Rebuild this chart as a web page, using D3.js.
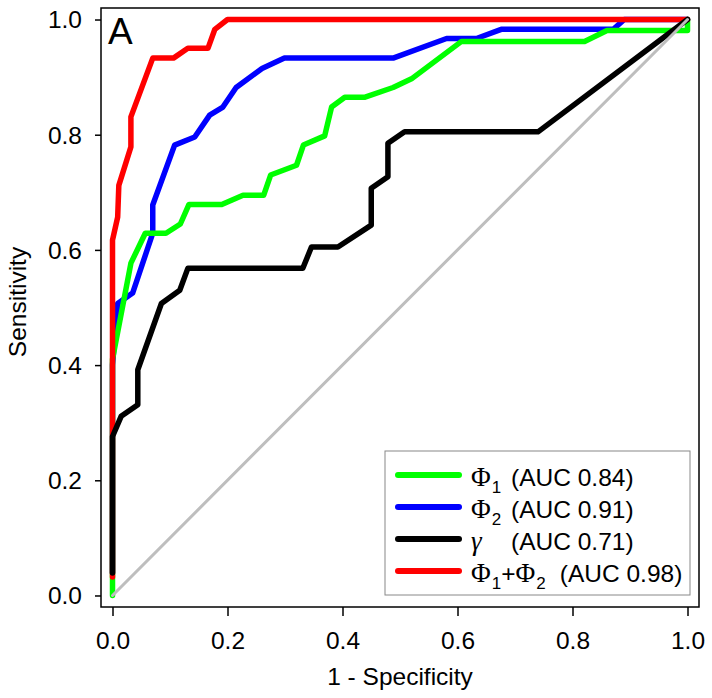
<!DOCTYPE html>
<html>
<head>
<meta charset="utf-8">
<script src="https://cdn.jsdelivr.net/npm/d3@7"></script>
<style>
  html, body { margin: 0; padding: 0; background: #fff; }
  svg { display: block; font-family: "Liberation Sans", Arial, sans-serif; }
</style>
</head>
<body>
<svg id="chart" width="712" height="698"></svg>
<script>
// ---------- data ----------
const phi1FPR = [0, 0, 0.032, 0.057, 0.093, 0.118, 0.133, 0.19, 0.227, 0.263, 0.275, 0.32, 0.332, 0.369, 0.381, 0.404, 0.438, 0.488, 0.52, 0.607, 0.821, 0.86, 1, 1];
const phi1TPR = [0, 0.41, 0.577, 0.629, 0.629, 0.645, 0.679, 0.679, 0.695, 0.695, 0.73, 0.747, 0.782, 0.798, 0.848, 0.865, 0.865, 0.882, 0.897, 0.962, 0.962, 0.981, 0.981, 1];

const phi2FPR = [0, 0, 0.009, 0.035, 0.070, 0.070, 0.108, 0.143, 0.169, 0.192, 0.215, 0.26, 0.299, 0.488, 0.581, 0.633, 0.676, 0.871, 0.89, 1];
const phi2TPR = [0.04, 0.40, 0.507, 0.525, 0.629, 0.678, 0.782, 0.796, 0.834, 0.848, 0.882, 0.915, 0.933, 0.933, 0.967, 0.967, 0.983, 0.983, 1, 1];

const gammaFPR = [0, 0, 0.015, 0.044, 0.044, 0.085, 0.117, 0.131, 0.331, 0.346, 0.392, 0.45, 0.45, 0.479, 0.479, 0.508, 0.740, 1];
const gammaTPR = [0.039, 0.276, 0.311, 0.331, 0.392, 0.507, 0.530, 0.568, 0.568, 0.605, 0.605, 0.643, 0.707, 0.727, 0.785, 0.805, 0.805, 1];

const sumFPR = [0, 0, 0.009, 0.011, 0.032, 0.032, 0.070, 0.106, 0.131, 0.166, 0.178, 0.20, 1];
const sumTPR = [0.032, 0.617, 0.657, 0.712, 0.779, 0.831, 0.933, 0.933, 0.950, 0.950, 0.983, 1, 1];

const diagFPR = [0, 1];
const diagTPR = [0, 1];

const legendSymbols = [[["Φ", "1"]], [["Φ", "2"]], [["γ", null]], [["Φ", "1"], ["Φ", "2"]]];
const legendAUC = ["0.84", "0.91", "0.71", "0.98"];
const legendColors = ["#00ff00", "#0000ff", "#000000", "#ff0000"];

const xTicks = [0, 0.2, 0.4, 0.6, 0.8, 1.0];
const yTicks = [0, 0.2, 0.4, 0.6, 0.8, 1.0];
const xTitle = "1 - Specificity";
const yTitle = "Sensitivity";
const panelLabel = "A";

// ---------- layout ----------
const box = { left: 101, right: 699, top: 8, bottom: 607 };
const svg = d3.select("#chart");

const x = d3.scaleLinear().domain([-0.02, 1.02]).range([box.left, box.right]);
const y = d3.scaleLinear().domain([-0.02, 1.02]).range([box.bottom, box.top]);

const zip = (a, b) => a.map((v, i) => [v, b[i]]);
const line = d3.line().x(d => x(d[0])).y(d => y(d[1]));

// draw order: blue, green, red, black, then diagonal
const series = [
  { fpr: phi2FPR, tpr: phi2TPR, color: "#0000ff" },
  { fpr: phi1FPR, tpr: phi1TPR, color: "#00ff00" },
  { fpr: sumFPR, tpr: sumTPR, color: "#ff0000" },
  { fpr: gammaFPR, tpr: gammaTPR, color: "#000000" }
];

series.forEach(s => {
  svg.append("path")
    .datum(zip(s.fpr, s.tpr))
    .attr("d", line)
    .attr("fill", "none")
    .attr("stroke", s.color)
    .attr("stroke-width", 5.5)
    .attr("stroke-linejoin", "round")
    .attr("stroke-linecap", "round");
});

svg.append("path")
  .datum(zip(diagFPR, diagTPR))
  .attr("d", line)
  .attr("fill", "none")
  .attr("stroke", "#bebebe")
  .attr("stroke-width", 3)
  .attr("stroke-linecap", "round");

// box
svg.append("rect")
  .attr("x", box.left).attr("y", box.top)
  .attr("width", box.right - box.left).attr("height", box.bottom - box.top)
  .attr("fill", "none").attr("stroke", "#000").attr("stroke-width", 1.5);

// axes
const fmt = d3.format(".1f");
const gx = svg.append("g").attr("transform", `translate(0,${box.bottom})`)
  .call(d3.axisBottom(x).tickValues(xTicks).tickFormat(fmt).tickSize(9).tickSizeOuter(0));
gx.select(".domain").remove();
gx.selectAll(".tick line").attr("stroke", "#000").attr("stroke-width", 1.5);
gx.selectAll(".tick text").attr("y", 42).attr("dy", 0)
  .attr("font-size", 24.5).attr("fill", "#000")
  .attr("font-family", "'Liberation Sans', Arial, sans-serif");

const gy = svg.append("g").attr("transform", `translate(${box.left},0)`)
  .call(d3.axisLeft(y).tickValues(yTicks).tickFormat(fmt).tickSize(6).tickSizeOuter(0));
gy.select(".domain").remove();
gy.selectAll(".tick line").attr("stroke", "#000").attr("stroke-width", 1.5);
gy.selectAll(".tick text").attr("x", -19).attr("dy", "0.34em")
  .attr("font-size", 24.5).attr("fill", "#000")
  .attr("font-family", "'Liberation Sans', Arial, sans-serif");

// axis titles
svg.append("text")
  .attr("x", (box.left + box.right) / 2).attr("y", 685)
  .attr("text-anchor", "middle").attr("font-size", 24.5).attr("fill", "#000")
  .text(xTitle);

svg.append("text")
  .attr("transform", `translate(26,302) rotate(-90)`)
  .attr("text-anchor", "middle").attr("font-size", 24.5).attr("fill", "#000")
  .text(yTitle);

// panel label
svg.append("text")
  .attr("x", 108).attr("y", 44)
  .attr("font-size", 37).attr("fill", "#000")
  .text(panelLabel);

// legend
const leg = { x: 385, y: 451, w: 305, h: 144, first: 475, step: 32 };
svg.append("rect")
  .attr("x", leg.x).attr("y", leg.y).attr("width", leg.w).attr("height", leg.h)
  .attr("fill", "#fff").attr("stroke", "#888").attr("stroke-width", 1);

legendSymbols.forEach((parts, i) => {
  const ry = leg.first + i * leg.step;
  svg.append("line")
    .attr("x1", 398).attr("x2", 459).attr("y1", ry).attr("y2", ry)
    .attr("stroke", legendColors[i]).attr("stroke-width", 6)
    .attr("stroke-linecap", "round");

  const t = svg.append("text")
    .attr("x", 471).attr("y", ry + 11)
    .attr("font-size", 24.5).attr("fill", "#000");

  let lowered = false;
  parts.forEach((p, j) => {
    if (j > 0) {
      t.append("tspan").attr("dy", lowered ? -7 : 0).text("+");
      lowered = false;
    }
    const sym = t.append("tspan")
      .attr("font-family", "'Liberation Serif', 'Times New Roman', serif")
      .attr("font-size", 27)
      .text(p[0]);
    if (p[0] === "γ") sym.attr("font-style", "italic");
    if (p[1]) {
      t.append("tspan").attr("font-size", 17).attr("dy", 7).attr("dx", 1).text(p[1]);
      lowered = true;
    }
  });
  const auc = t.append("tspan").attr("dy", lowered ? -7 : 0).text(`(AUC ${legendAUC[i]})`);
  if (parts.length === 1) auc.attr("x", 511);
  else auc.attr("dx", 14);
});
</script>
</body>
</html>
